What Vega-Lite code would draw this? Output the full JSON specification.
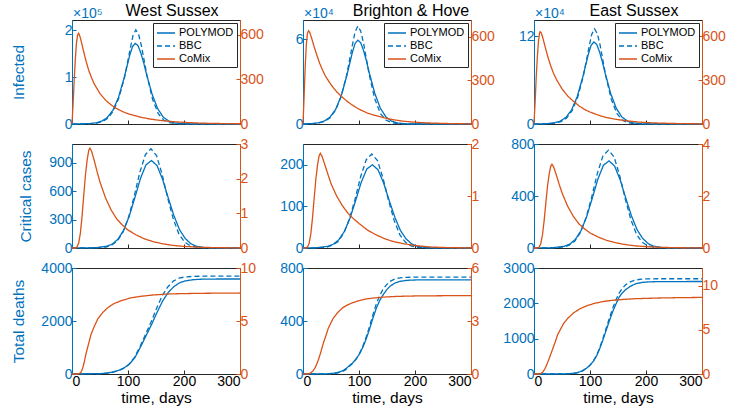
{
"$schema": "https://vega.github.io/schema/vega-lite/v6.json",
"background": "white",
"padding": {"left": 10, "top": 2, "right": 2, "bottom": 2},
"config": {
 "font": "Liberation Sans",
 "view": {"stroke": "#262626", "strokeWidth": 1},
 "axis": {"grid": false, "labelFont": "Liberation Sans", "titleFont": "Liberation Sans", "labelFontSize": 14, "titleFontSize": 15.5, "titleFontWeight": "normal", "tickSize": -4, "labelPadding": 4, "domainWidth": 1, "tickWidth": 1, "format": "d"},
 "legend": {"orient": "top-right", "title": null, "offset": 3, "padding": 3, "strokeColor": "#262626", "fillColor": "white", "labelFontSize": 11, "labelColor": "black", "labelFont": "Liberation Sans", "symbolType": "M-1.5,0H1.5", "symbolSize": 144, "symbolOffset": 3, "symbolStrokeWidth": 1.3, "rowPadding": 1, "labelOffset": 6, "cornerRadius": 0},
 "line": {"strokeWidth": 1.3}
},
"datasets": {
 "wsInf": [
  {"s":"POLYMOD","t":0,"v":30},{"s":"POLYMOD","t":13,"v":138},{"s":"POLYMOD","t":33,"v":1032},{"s":"POLYMOD","t":43,"v":2580},{"s":"POLYMOD","t":53,"v":6020},{"s":"POLYMOD","t":63,"v":13760},{"s":"POLYMOD","t":73,"v":29240},{"s":"POLYMOD","t":83,"v":56760},{"s":"POLYMOD","t":93,"v":98040},{"s":"POLYMOD","t":103,"v":146200},{"s":"POLYMOD","t":108,"v":165120},{"s":"POLYMOD","t":113,"v":172000},{"s":"POLYMOD","t":118,"v":166840},{"s":"POLYMOD","t":123,"v":151360},{"s":"POLYMOD","t":128,"v":130720},{"s":"POLYMOD","t":133,"v":106640},{"s":"POLYMOD","t":143,"v":63640},{"s":"POLYMOD","t":153,"v":32680},{"s":"POLYMOD","t":163,"v":14620},{"s":"POLYMOD","t":173,"v":6020},{"s":"POLYMOD","t":183,"v":2236},{"s":"POLYMOD","t":198,"v":516},{"s":"POLYMOD","t":213,"v":86},{"s":"POLYMOD","t":300,"v":0},
  {"s":"BBC","t":0,"v":0},{"s":"BBC","t":14,"v":60},{"s":"BBC","t":34,"v":603},{"s":"BBC","t":44,"v":2010},{"s":"BBC","t":54,"v":5025},{"s":"BBC","t":64,"v":12060},{"s":"BBC","t":74,"v":28140},{"s":"BBC","t":84,"v":56280},{"s":"BBC","t":94,"v":100500},{"s":"BBC","t":104,"v":160800},{"s":"BBC","t":109,"v":188940},{"s":"BBC","t":114,"v":201000},{"s":"BBC","t":119,"v":190950},{"s":"BBC","t":124,"v":166830},{"s":"BBC","t":129,"v":134670},{"s":"BBC","t":134,"v":102510},{"s":"BBC","t":144,"v":52260},{"s":"BBC","t":154,"v":22110},{"s":"BBC","t":164,"v":8040},{"s":"BBC","t":174,"v":2814},{"s":"BBC","t":184,"v":1005},{"s":"BBC","t":199,"v":201},{"s":"BBC","t":214,"v":40},{"s":"BBC","t":300,"v":0},
  {"s":"CoMix","t":0,"v":0},{"s":"CoMix","t":2,"v":140},{"s":"CoMix","t":4,"v":300},{"s":"CoMix","t":6,"v":440},{"s":"CoMix","t":8,"v":545},{"s":"CoMix","t":10,"v":600},{"s":"CoMix","t":12,"v":611},{"s":"CoMix","t":15,"v":580},{"s":"CoMix","t":20,"v":500},{"s":"CoMix","t":25,"v":425},{"s":"CoMix","t":30,"v":360},{"s":"CoMix","t":35,"v":310},{"s":"CoMix","t":40,"v":268},{"s":"CoMix","t":50,"v":205},{"s":"CoMix","t":60,"v":160},{"s":"CoMix","t":70,"v":128},{"s":"CoMix","t":80,"v":103},{"s":"CoMix","t":90,"v":84},{"s":"CoMix","t":100,"v":69},{"s":"CoMix","t":120,"v":48},{"s":"CoMix","t":140,"v":33},{"s":"CoMix","t":160,"v":23},{"s":"CoMix","t":180,"v":16},{"s":"CoMix","t":200,"v":11},{"s":"CoMix","t":225,"v":6.5},{"s":"CoMix","t":250,"v":4},{"s":"CoMix","t":275,"v":2.5},{"s":"CoMix","t":300,"v":1.5}
 ],
 "bhInf": [
  {"s":"POLYMOD","t":0,"v":60},{"s":"POLYMOD","t":18,"v":357},{"s":"POLYMOD","t":28,"v":893},{"s":"POLYMOD","t":38,"v":2083},{"s":"POLYMOD","t":48,"v":4760},{"s":"POLYMOD","t":58,"v":10115},{"s":"POLYMOD","t":68,"v":19635},{"s":"POLYMOD","t":78,"v":33915},{"s":"POLYMOD","t":88,"v":50575},{"s":"POLYMOD","t":93,"v":57120},{"s":"POLYMOD","t":98,"v":59500},{"s":"POLYMOD","t":103,"v":57715},{"s":"POLYMOD","t":108,"v":52360},{"s":"POLYMOD","t":113,"v":45220},{"s":"POLYMOD","t":118,"v":36890},{"s":"POLYMOD","t":128,"v":22015},{"s":"POLYMOD","t":138,"v":11305},{"s":"POLYMOD","t":148,"v":5058},{"s":"POLYMOD","t":158,"v":2083},{"s":"POLYMOD","t":168,"v":774},{"s":"POLYMOD","t":183,"v":179},{"s":"POLYMOD","t":198,"v":30},{"s":"POLYMOD","t":300,"v":0},
  {"s":"BBC","t":0,"v":21},{"s":"BBC","t":18,"v":209},{"s":"BBC","t":28,"v":695},{"s":"BBC","t":38,"v":1738},{"s":"BBC","t":48,"v":4170},{"s":"BBC","t":58,"v":9730},{"s":"BBC","t":68,"v":19460},{"s":"BBC","t":78,"v":34750},{"s":"BBC","t":88,"v":55600},{"s":"BBC","t":93,"v":65330},{"s":"BBC","t":98,"v":69500},{"s":"BBC","t":103,"v":66025},{"s":"BBC","t":108,"v":57685},{"s":"BBC","t":113,"v":46565},{"s":"BBC","t":118,"v":35445},{"s":"BBC","t":128,"v":18070},{"s":"BBC","t":138,"v":7645},{"s":"BBC","t":148,"v":2780},{"s":"BBC","t":158,"v":973},{"s":"BBC","t":168,"v":348},{"s":"BBC","t":183,"v":70},{"s":"BBC","t":198,"v":14},{"s":"BBC","t":300,"v":0},
  {"s":"CoMix","t":0,"v":0},{"s":"CoMix","t":2,"v":190},{"s":"CoMix","t":4,"v":400},{"s":"CoMix","t":6,"v":550},{"s":"CoMix","t":8,"v":625},{"s":"CoMix","t":10,"v":641},{"s":"CoMix","t":12,"v":630},{"s":"CoMix","t":15,"v":595},{"s":"CoMix","t":20,"v":530},{"s":"CoMix","t":25,"v":470},{"s":"CoMix","t":30,"v":415},{"s":"CoMix","t":35,"v":370},{"s":"CoMix","t":40,"v":330},{"s":"CoMix","t":50,"v":270},{"s":"CoMix","t":60,"v":222},{"s":"CoMix","t":70,"v":185},{"s":"CoMix","t":80,"v":152},{"s":"CoMix","t":90,"v":125},{"s":"CoMix","t":100,"v":102},{"s":"CoMix","t":115,"v":75},{"s":"CoMix","t":130,"v":57},{"s":"CoMix","t":145,"v":42},{"s":"CoMix","t":160,"v":30},{"s":"CoMix","t":180,"v":19},{"s":"CoMix","t":200,"v":12},{"s":"CoMix","t":225,"v":7},{"s":"CoMix","t":250,"v":4},{"s":"CoMix","t":275,"v":2},{"s":"CoMix","t":300,"v":1}
 ],
 "esInf": [
  {"s":"POLYMOD","t":0,"v":40},{"s":"POLYMOD","t":7,"v":90},{"s":"POLYMOD","t":27,"v":672},{"s":"POLYMOD","t":37,"v":1680},{"s":"POLYMOD","t":47,"v":3920},{"s":"POLYMOD","t":57,"v":8960},{"s":"POLYMOD","t":67,"v":19040},{"s":"POLYMOD","t":77,"v":36960},{"s":"POLYMOD","t":87,"v":63840},{"s":"POLYMOD","t":97,"v":95200},{"s":"POLYMOD","t":102,"v":107520},{"s":"POLYMOD","t":107,"v":112000},{"s":"POLYMOD","t":112,"v":108640},{"s":"POLYMOD","t":117,"v":98560},{"s":"POLYMOD","t":122,"v":85120},{"s":"POLYMOD","t":127,"v":69440},{"s":"POLYMOD","t":137,"v":41440},{"s":"POLYMOD","t":147,"v":21280},{"s":"POLYMOD","t":157,"v":9520},{"s":"POLYMOD","t":167,"v":3920},{"s":"POLYMOD","t":177,"v":1456},{"s":"POLYMOD","t":192,"v":336},{"s":"POLYMOD","t":207,"v":56},{"s":"POLYMOD","t":300,"v":0},
  {"s":"BBC","t":0,"v":0},{"s":"BBC","t":8,"v":39},{"s":"BBC","t":28,"v":390},{"s":"BBC","t":38,"v":1300},{"s":"BBC","t":48,"v":3250},{"s":"BBC","t":58,"v":7800},{"s":"BBC","t":68,"v":18200},{"s":"BBC","t":78,"v":36400},{"s":"BBC","t":88,"v":65000},{"s":"BBC","t":98,"v":104000},{"s":"BBC","t":103,"v":122200},{"s":"BBC","t":108,"v":130000},{"s":"BBC","t":113,"v":123500},{"s":"BBC","t":118,"v":107900},{"s":"BBC","t":123,"v":87100},{"s":"BBC","t":128,"v":66300},{"s":"BBC","t":138,"v":33800},{"s":"BBC","t":148,"v":14300},{"s":"BBC","t":158,"v":5200},{"s":"BBC","t":168,"v":1820},{"s":"BBC","t":178,"v":650},{"s":"BBC","t":193,"v":130},{"s":"BBC","t":208,"v":26},{"s":"BBC","t":300,"v":0},
  {"s":"CoMix","t":0,"v":0},{"s":"CoMix","t":2,"v":150},{"s":"CoMix","t":4,"v":320},{"s":"CoMix","t":6,"v":460},{"s":"CoMix","t":8,"v":565},{"s":"CoMix","t":10,"v":622},{"s":"CoMix","t":11,"v":630},{"s":"CoMix","t":13,"v":622},{"s":"CoMix","t":16,"v":585},{"s":"CoMix","t":20,"v":525},{"s":"CoMix","t":25,"v":455},{"s":"CoMix","t":30,"v":395},{"s":"CoMix","t":35,"v":345},{"s":"CoMix","t":40,"v":305},{"s":"CoMix","t":50,"v":240},{"s":"CoMix","t":60,"v":192},{"s":"CoMix","t":70,"v":156},{"s":"CoMix","t":80,"v":125},{"s":"CoMix","t":90,"v":100},{"s":"CoMix","t":100,"v":82},{"s":"CoMix","t":115,"v":60},{"s":"CoMix","t":128,"v":46},{"s":"CoMix","t":140,"v":36},{"s":"CoMix","t":160,"v":24},{"s":"CoMix","t":185,"v":14},{"s":"CoMix","t":200,"v":10},{"s":"CoMix","t":225,"v":6},{"s":"CoMix","t":250,"v":3.5},{"s":"CoMix","t":275,"v":2},{"s":"CoMix","t":300,"v":1}
 ],
 "wsCrit": [
  {"s":"POLYMOD","t":0,"v":0},{"s":"POLYMOD","t":42,"v":2.8},{"s":"POLYMOD","t":62,"v":18.5},{"s":"POLYMOD","t":72,"v":41.6},{"s":"POLYMOD","t":82,"v":92.5},{"s":"POLYMOD","t":92,"v":185},{"s":"POLYMOD","t":102,"v":333},{"s":"POLYMOD","t":112,"v":527},{"s":"POLYMOD","t":122,"v":731},{"s":"POLYMOD","t":132,"v":879},{"s":"POLYMOD","t":142,"v":925},{"s":"POLYMOD","t":152,"v":870},{"s":"POLYMOD","t":162,"v":722},{"s":"POLYMOD","t":172,"v":527},{"s":"POLYMOD","t":182,"v":342},{"s":"POLYMOD","t":192,"v":194},{"s":"POLYMOD","t":202,"v":102},{"s":"POLYMOD","t":212,"v":46},{"s":"POLYMOD","t":222,"v":18.5},{"s":"POLYMOD","t":237,"v":4.6},{"s":"POLYMOD","t":252,"v":0.9},{"s":"POLYMOD","t":300,"v":0},
  {"s":"BBC","t":0,"v":0},{"s":"BBC","t":41,"v":1},{"s":"BBC","t":61,"v":10.5},{"s":"BBC","t":71,"v":31.5},{"s":"BBC","t":81,"v":73.5},{"s":"BBC","t":91,"v":168},{"s":"BBC","t":101,"v":325.5},{"s":"BBC","t":111,"v":546},{"s":"BBC","t":121,"v":798},{"s":"BBC","t":131,"v":987},{"s":"BBC","t":141,"v":1050},{"s":"BBC","t":151,"v":976.5},{"s":"BBC","t":161,"v":777},{"s":"BBC","t":171,"v":525},{"s":"BBC","t":181,"v":304.5},{"s":"BBC","t":191,"v":147},{"s":"BBC","t":201,"v":63},{"s":"BBC","t":211,"v":24},{"s":"BBC","t":221,"v":8.4},{"s":"BBC","t":236,"v":2.1},{"s":"BBC","t":251,"v":0.3},{"s":"BBC","t":300,"v":0},
  {"s":"CoMix","t":0,"v":0},{"s":"CoMix","t":6,"v":0},{"s":"CoMix","t":9,"v":0.029},{"s":"CoMix","t":12,"v":0.144},{"s":"CoMix","t":15,"v":0.432},{"s":"CoMix","t":18,"v":0.922},{"s":"CoMix","t":21,"v":1.526},{"s":"CoMix","t":24,"v":2.102},{"s":"CoMix","t":27,"v":2.534},{"s":"CoMix","t":30,"v":2.822},{"s":"CoMix","t":32,"v":2.88},{"s":"CoMix","t":35,"v":2.794},{"s":"CoMix","t":40,"v":2.506},{"s":"CoMix","t":45,"v":2.189},{"s":"CoMix","t":50,"v":1.901},{"s":"CoMix","t":60,"v":1.44},{"s":"CoMix","t":70,"v":1.094},{"s":"CoMix","t":80,"v":0.835},{"s":"CoMix","t":90,"v":0.662},{"s":"CoMix","t":100,"v":0.518},{"s":"CoMix","t":115,"v":0.374},{"s":"CoMix","t":130,"v":0.259},{"s":"CoMix","t":145,"v":0.184},{"s":"CoMix","t":160,"v":0.127},{"s":"CoMix","t":180,"v":0.075},{"s":"CoMix","t":200,"v":0.046},{"s":"CoMix","t":230,"v":0.02},{"s":"CoMix","t":260,"v":0.009},{"s":"CoMix","t":300,"v":0.003}
 ],
 "bhCrit": [
  {"s":"POLYMOD","t":0,"v":0},{"s":"POLYMOD","t":24,"v":0.6},{"s":"POLYMOD","t":44,"v":4},{"s":"POLYMOD","t":54,"v":9},{"s":"POLYMOD","t":64,"v":20},{"s":"POLYMOD","t":74,"v":40},{"s":"POLYMOD","t":84,"v":72},{"s":"POLYMOD","t":94,"v":114},{"s":"POLYMOD","t":104,"v":158},{"s":"POLYMOD","t":114,"v":190},{"s":"POLYMOD","t":124,"v":200},{"s":"POLYMOD","t":134,"v":188},{"s":"POLYMOD","t":144,"v":156},{"s":"POLYMOD","t":154,"v":114},{"s":"POLYMOD","t":164,"v":74},{"s":"POLYMOD","t":174,"v":42},{"s":"POLYMOD","t":184,"v":22},{"s":"POLYMOD","t":194,"v":10},{"s":"POLYMOD","t":204,"v":4},{"s":"POLYMOD","t":219,"v":1},{"s":"POLYMOD","t":234,"v":0.2},{"s":"POLYMOD","t":300,"v":0},
  {"s":"BBC","t":0,"v":0},{"s":"BBC","t":23,"v":0.2},{"s":"BBC","t":43,"v":2.3},{"s":"BBC","t":53,"v":6.8},{"s":"BBC","t":63,"v":15.8},{"s":"BBC","t":73,"v":36.2},{"s":"BBC","t":83,"v":70},{"s":"BBC","t":93,"v":117.5},{"s":"BBC","t":103,"v":171.8},{"s":"BBC","t":113,"v":212.4},{"s":"BBC","t":123,"v":226},{"s":"BBC","t":133,"v":210.2},{"s":"BBC","t":143,"v":167.2},{"s":"BBC","t":153,"v":113},{"s":"BBC","t":163,"v":65.5},{"s":"BBC","t":173,"v":31.6},{"s":"BBC","t":183,"v":13.6},{"s":"BBC","t":193,"v":5.2},{"s":"BBC","t":203,"v":1.8},{"s":"BBC","t":218,"v":0.5},{"s":"BBC","t":233,"v":0.07},{"s":"BBC","t":300,"v":0},
  {"s":"CoMix","t":0,"v":0},{"s":"CoMix","t":5,"v":0},{"s":"CoMix","t":8,"v":0.018},{"s":"CoMix","t":11,"v":0.091},{"s":"CoMix","t":14,"v":0.273},{"s":"CoMix","t":17,"v":0.582},{"s":"CoMix","t":20,"v":0.965},{"s":"CoMix","t":23,"v":1.329},{"s":"CoMix","t":26,"v":1.602},{"s":"CoMix","t":29,"v":1.784},{"s":"CoMix","t":31,"v":1.82},{"s":"CoMix","t":34,"v":1.765},{"s":"CoMix","t":39,"v":1.602},{"s":"CoMix","t":45,"v":1.401},{"s":"CoMix","t":50,"v":1.238},{"s":"CoMix","t":60,"v":1.001},{"s":"CoMix","t":70,"v":0.819},{"s":"CoMix","t":80,"v":0.673},{"s":"CoMix","t":90,"v":0.564},{"s":"CoMix","t":100,"v":0.473},{"s":"CoMix","t":115,"v":0.346},{"s":"CoMix","t":130,"v":0.255},{"s":"CoMix","t":145,"v":0.182},{"s":"CoMix","t":160,"v":0.127},{"s":"CoMix","t":180,"v":0.082},{"s":"CoMix","t":200,"v":0.046},{"s":"CoMix","t":230,"v":0.018},{"s":"CoMix","t":260,"v":0.007},{"s":"CoMix","t":300,"v":0.002}
 ],
 "esCrit": [
  {"s":"POLYMOD","t":0,"v":0},{"s":"POLYMOD","t":34,"v":2},{"s":"POLYMOD","t":54,"v":13.4},{"s":"POLYMOD","t":64,"v":30.2},{"s":"POLYMOD","t":74,"v":67},{"s":"POLYMOD","t":84,"v":134},{"s":"POLYMOD","t":94,"v":241},{"s":"POLYMOD","t":104,"v":382},{"s":"POLYMOD","t":114,"v":529},{"s":"POLYMOD","t":124,"v":637},{"s":"POLYMOD","t":134,"v":670},{"s":"POLYMOD","t":144,"v":630},{"s":"POLYMOD","t":154,"v":523},{"s":"POLYMOD","t":164,"v":382},{"s":"POLYMOD","t":174,"v":248},{"s":"POLYMOD","t":184,"v":141},{"s":"POLYMOD","t":194,"v":74},{"s":"POLYMOD","t":204,"v":33.5},{"s":"POLYMOD","t":214,"v":13.4},{"s":"POLYMOD","t":229,"v":3.4},{"s":"POLYMOD","t":244,"v":0.7},{"s":"POLYMOD","t":300,"v":0},
  {"s":"BBC","t":0,"v":0},{"s":"BBC","t":33,"v":0.75},{"s":"BBC","t":53,"v":7.5},{"s":"BBC","t":63,"v":22.6},{"s":"BBC","t":73,"v":52.7},{"s":"BBC","t":83,"v":120.5},{"s":"BBC","t":93,"v":233.4},{"s":"BBC","t":103,"v":391.6},{"s":"BBC","t":113,"v":572.3},{"s":"BBC","t":123,"v":707.8},{"s":"BBC","t":133,"v":753},{"s":"BBC","t":143,"v":700.3},{"s":"BBC","t":153,"v":557.2},{"s":"BBC","t":163,"v":376.5},{"s":"BBC","t":173,"v":218.4},{"s":"BBC","t":183,"v":105.4},{"s":"BBC","t":193,"v":45.2},{"s":"BBC","t":203,"v":17.3},{"s":"BBC","t":213,"v":6},{"s":"BBC","t":228,"v":1.5},{"s":"BBC","t":243,"v":0.2},{"s":"BBC","t":300,"v":0},
  {"s":"CoMix","t":0,"v":0},{"s":"CoMix","t":6,"v":0},{"s":"CoMix","t":9,"v":0.032},{"s":"CoMix","t":12,"v":0.161},{"s":"CoMix","t":15,"v":0.483},{"s":"CoMix","t":18,"v":1.03},{"s":"CoMix","t":21,"v":1.707},{"s":"CoMix","t":24,"v":2.351},{"s":"CoMix","t":27,"v":2.834},{"s":"CoMix","t":30,"v":3.156},{"s":"CoMix","t":32,"v":3.22},{"s":"CoMix","t":35,"v":3.123},{"s":"CoMix","t":40,"v":2.801},{"s":"CoMix","t":45,"v":2.447},{"s":"CoMix","t":50,"v":2.125},{"s":"CoMix","t":60,"v":1.61},{"s":"CoMix","t":70,"v":1.224},{"s":"CoMix","t":80,"v":0.934},{"s":"CoMix","t":90,"v":0.741},{"s":"CoMix","t":100,"v":0.58},{"s":"CoMix","t":115,"v":0.419},{"s":"CoMix","t":130,"v":0.29},{"s":"CoMix","t":145,"v":0.206},{"s":"CoMix","t":160,"v":0.142},{"s":"CoMix","t":180,"v":0.084},{"s":"CoMix","t":200,"v":0.052},{"s":"CoMix","t":230,"v":0.023},{"s":"CoMix","t":260,"v":0.01},{"s":"CoMix","t":300,"v":0.003}
 ],
 "wsDeath": [
  {"s":"POLYMOD","t":0,"v":0},{"s":"POLYMOD","t":52,"v":18},{"s":"POLYMOD","t":62,"v":36},{"s":"POLYMOD","t":72,"v":72},{"s":"POLYMOD","t":82,"v":125},{"s":"POLYMOD","t":92,"v":215},{"s":"POLYMOD","t":102,"v":359},{"s":"POLYMOD","t":112,"v":609},{"s":"POLYMOD","t":122,"v":1004},{"s":"POLYMOD","t":132,"v":1434},{"s":"POLYMOD","t":142,"v":1864},{"s":"POLYMOD","t":152,"v":2330},{"s":"POLYMOD","t":162,"v":2760},{"s":"POLYMOD","t":172,"v":3083},{"s":"POLYMOD","t":182,"v":3298},{"s":"POLYMOD","t":192,"v":3442},{"s":"POLYMOD","t":202,"v":3513},{"s":"POLYMOD","t":217,"v":3560},{"s":"POLYMOD","t":232,"v":3578},{"s":"POLYMOD","t":262,"v":3585},{"s":"POLYMOD","t":300,"v":3585},
  {"s":"BBC","t":0,"v":0},{"s":"BBC","t":51,"v":11},{"s":"BBC","t":61,"v":26},{"s":"BBC","t":71,"v":55},{"s":"BBC","t":81,"v":111},{"s":"BBC","t":91,"v":203},{"s":"BBC","t":101,"v":351},{"s":"BBC","t":111,"v":609},{"s":"BBC","t":121,"v":1015},{"s":"BBC","t":131,"v":1476},{"s":"BBC","t":141,"v":1956},{"s":"BBC","t":151,"v":2472},{"s":"BBC","t":161,"v":2952},{"s":"BBC","t":171,"v":3284},{"s":"BBC","t":181,"v":3506},{"s":"BBC","t":191,"v":3616},{"s":"BBC","t":201,"v":3660},{"s":"BBC","t":216,"v":3683},{"s":"BBC","t":231,"v":3690},{"s":"BBC","t":300,"v":3690},
  {"s":"CoMix","t":0,"v":0},{"s":"CoMix","t":10,"v":0},{"s":"CoMix","t":13,"v":0.038},{"s":"CoMix","t":16,"v":0.153},{"s":"CoMix","t":19,"v":0.535},{"s":"CoMix","t":22,"v":1.146},{"s":"CoMix","t":25,"v":1.91},{"s":"CoMix","t":28,"v":2.521},{"s":"CoMix","t":31,"v":3.132},{"s":"CoMix","t":34,"v":3.744},{"s":"CoMix","t":40,"v":4.508},{"s":"CoMix","t":46,"v":5.195},{"s":"CoMix","t":55,"v":5.806},{"s":"CoMix","t":64,"v":6.265},{"s":"CoMix","t":75,"v":6.647},{"s":"CoMix","t":88,"v":6.914},{"s":"CoMix","t":105,"v":7.182},{"s":"CoMix","t":124,"v":7.334},{"s":"CoMix","t":145,"v":7.457},{"s":"CoMix","t":172,"v":7.548},{"s":"CoMix","t":200,"v":7.587},{"s":"CoMix","t":240,"v":7.617},{"s":"CoMix","t":300,"v":7.64}
 ],
 "bhDeath": [
  {"s":"POLYMOD","t":0,"v":0},{"s":"POLYMOD","t":40,"v":0.7},{"s":"POLYMOD","t":54,"v":5},{"s":"POLYMOD","t":63,"v":12.8},{"s":"POLYMOD","t":71,"v":24.9},{"s":"POLYMOD","t":77,"v":41.2},{"s":"POLYMOD","t":83,"v":64},{"s":"POLYMOD","t":89,"v":85.3},{"s":"POLYMOD","t":95,"v":113.8},{"s":"POLYMOD","t":101,"v":152.9},{"s":"POLYMOD","t":107,"v":202.6},{"s":"POLYMOD","t":113,"v":266.6},{"s":"POLYMOD","t":119,"v":341.3},{"s":"POLYMOD","t":125,"v":423},{"s":"POLYMOD","t":131,"v":497.7},{"s":"POLYMOD","t":137,"v":554.6},{"s":"POLYMOD","t":143,"v":597.2},{"s":"POLYMOD","t":149,"v":632.8},{"s":"POLYMOD","t":155,"v":661.2},{"s":"POLYMOD","t":164,"v":686.1},{"s":"POLYMOD","t":173,"v":698.9},{"s":"POLYMOD","t":185,"v":706.7},{"s":"POLYMOD","t":200,"v":709.6},{"s":"POLYMOD","t":230,"v":711},{"s":"POLYMOD","t":300,"v":711},
  {"s":"BBC","t":0,"v":0},{"s":"BBC","t":40,"v":0.4},{"s":"BBC","t":54,"v":3.7},{"s":"BBC","t":63,"v":9.5},{"s":"BBC","t":71,"v":20.5},{"s":"BBC","t":77,"v":35.1},{"s":"BBC","t":83,"v":58.5},{"s":"BBC","t":89,"v":82.6},{"s":"BBC","t":95,"v":113.3},{"s":"BBC","t":101,"v":155.7},{"s":"BBC","t":107,"v":212},{"s":"BBC","t":113,"v":281.4},{"s":"BBC","t":119,"v":361.8},{"s":"BBC","t":125,"v":449.6},{"s":"BBC","t":131,"v":530},{"s":"BBC","t":137,"v":592.1},{"s":"BBC","t":143,"v":639.6},{"s":"BBC","t":149,"v":672.5},{"s":"BBC","t":155,"v":698.1},{"s":"BBC","t":164,"v":716.4},{"s":"BBC","t":173,"v":725.2},{"s":"BBC","t":185,"v":729.5},{"s":"BBC","t":200,"v":731},{"s":"BBC","t":300,"v":731},
  {"s":"CoMix","t":0,"v":0},{"s":"CoMix","t":9,"v":0},{"s":"CoMix","t":13,"v":0.044},{"s":"CoMix","t":18,"v":0.178},{"s":"CoMix","t":22,"v":0.377},{"s":"CoMix","t":27,"v":0.755},{"s":"CoMix","t":31,"v":1.154},{"s":"CoMix","t":36,"v":1.709},{"s":"CoMix","t":40,"v":2.087},{"s":"CoMix","t":45,"v":2.575},{"s":"CoMix","t":50,"v":2.908},{"s":"CoMix","t":54,"v":3.152},{"s":"CoMix","t":62,"v":3.485},{"s":"CoMix","t":71,"v":3.752},{"s":"CoMix","t":80,"v":3.916},{"s":"CoMix","t":89,"v":4.04},{"s":"CoMix","t":100,"v":4.151},{"s":"CoMix","t":113,"v":4.249},{"s":"CoMix","t":128,"v":4.307},{"s":"CoMix","t":143,"v":4.351},{"s":"CoMix","t":170,"v":4.396},{"s":"CoMix","t":202,"v":4.418},{"s":"CoMix","t":250,"v":4.431},{"s":"CoMix","t":300,"v":4.44}
 ],
 "esDeath": [
  {"s":"POLYMOD","t":0,"v":0},{"s":"POLYMOD","t":40,"v":0.6},{"s":"POLYMOD","t":50,"v":3},{"s":"POLYMOD","t":60,"v":8},{"s":"POLYMOD","t":70,"v":20},{"s":"POLYMOD","t":77,"v":40},{"s":"POLYMOD","t":85,"v":80},{"s":"POLYMOD","t":94,"v":167},{"s":"POLYMOD","t":100,"v":250},{"s":"POLYMOD","t":106,"v":363},{"s":"POLYMOD","t":112,"v":520},{"s":"POLYMOD","t":117,"v":706},{"s":"POLYMOD","t":123,"v":960},{"s":"POLYMOD","t":129,"v":1245},{"s":"POLYMOD","t":135,"v":1520},{"s":"POLYMOD","t":141,"v":1784},{"s":"POLYMOD","t":147,"v":2000},{"s":"POLYMOD","t":152,"v":2176},{"s":"POLYMOD","t":158,"v":2300},{"s":"POLYMOD","t":164,"v":2392},{"s":"POLYMOD","t":172,"v":2480},{"s":"POLYMOD","t":181,"v":2549},{"s":"POLYMOD","t":192,"v":2590},{"s":"POLYMOD","t":205,"v":2608},{"s":"POLYMOD","t":230,"v":2616},{"s":"POLYMOD","t":300,"v":2618},
  {"s":"BBC","t":0,"v":0},{"s":"BBC","t":50,"v":2},{"s":"BBC","t":60,"v":6},{"s":"BBC","t":70,"v":16},{"s":"BBC","t":77,"v":34},{"s":"BBC","t":85,"v":72},{"s":"BBC","t":94,"v":160},{"s":"BBC","t":100,"v":245},{"s":"BBC","t":106,"v":365},{"s":"BBC","t":112,"v":535},{"s":"BBC","t":117,"v":730},{"s":"BBC","t":123,"v":1000},{"s":"BBC","t":129,"v":1300},{"s":"BBC","t":135,"v":1600},{"s":"BBC","t":141,"v":1880},{"s":"BBC","t":147,"v":2120},{"s":"BBC","t":152,"v":2290},{"s":"BBC","t":158,"v":2430},{"s":"BBC","t":164,"v":2530},{"s":"BBC","t":172,"v":2610},{"s":"BBC","t":181,"v":2660},{"s":"BBC","t":192,"v":2685},{"s":"BBC","t":205,"v":2694},{"s":"BBC","t":230,"v":2696},{"s":"BBC","t":300,"v":2696},
  {"s":"CoMix","t":0,"v":0},{"s":"CoMix","t":8,"v":0},{"s":"CoMix","t":12,"v":0.043},{"s":"CoMix","t":16,"v":0.26},{"s":"CoMix","t":20,"v":0.65},{"s":"CoMix","t":24,"v":1.248},{"s":"CoMix","t":28,"v":1.907},{"s":"CoMix","t":33,"v":2.774},{"s":"CoMix","t":38,"v":3.641},{"s":"CoMix","t":42,"v":4.422},{"s":"CoMix","t":47,"v":5.029},{"s":"CoMix","t":53,"v":5.722},{"s":"CoMix","t":60,"v":6.286},{"s":"CoMix","t":71,"v":6.936},{"s":"CoMix","t":82,"v":7.387},{"s":"CoMix","t":94,"v":7.716},{"s":"CoMix","t":108,"v":7.994},{"s":"CoMix","t":123,"v":8.202},{"s":"CoMix","t":140,"v":8.341},{"s":"CoMix","t":158,"v":8.436},{"s":"CoMix","t":180,"v":8.523},{"s":"CoMix","t":222,"v":8.601},{"s":"CoMix","t":260,"v":8.644},{"s":"CoMix","t":300,"v":8.67}
 ]
},
"columns": 3,
"spacing": {"row": 20, "column": 63},
"bounds": "flush",
"resolve": {"scale": {"color": "independent", "strokeDash": "independent"}},
"concat": [
 {"width": 168, "height": 104,
  "layer": [
   {"layer": [
     {"data": {"name": "wsInf"}, "transform": [{"filter": "datum.s !== 'CoMix'"}], "mark": "line",
      "encoding": {
       "x": {"field": "t", "type": "quantitative", "scale": {"domain": [0, 300], "nice": false}, "axis": {"values": [0, 100, 200, 300], "labels": false, "title": null, "domainColor": "#262626", "tickColor": "#262626"}},
       "y": {"field": "v", "type": "quantitative", "scale": {"domain": [0, 222000], "nice": false}, "axis": {"orient": "left", "values": [0, 100000, 200000], "labelExpr": "datum.value / 100000", "title": "Infected", "titleX": -46, "domainColor": "#0072BD", "tickColor": "#0072BD", "labelColor": "#0072BD", "titleColor": "#0072BD"}},
       "color": {"field": "s", "type": "nominal", "scale": {"domain": ["POLYMOD", "BBC", "CoMix"], "range": ["#0072BD", "#0072BD", "#D95319"]}},
       "strokeDash": {"field": "s", "type": "nominal", "scale": {"domain": ["POLYMOD", "BBC", "CoMix"], "range": [[1, 0], [5, 3], [1, 0]]}}
      }},
     {"data": {"values": [{"lab": "×10⁵"}]}, "mark": {"type": "text", "align": "left", "baseline": "alphabetic", "dx": 1, "dy": -2, "color": "#0072BD", "fontSize": 14},
      "encoding": {"x": {"datum": 0, "type": "quantitative"}, "y": {"datum": 222000, "type": "quantitative"}, "text": {"field": "lab"}}},
     {"data": {"values": [{"lab": "West Sussex"}]}, "mark": {"type": "text", "align": "center", "baseline": "alphabetic", "dx": 16, "dy": -4, "color": "black", "fontSize": 16},
      "encoding": {"x": {"datum": 150, "type": "quantitative"}, "y": {"datum": 222000, "type": "quantitative"}, "text": {"field": "lab"}}}
   ]},
   {"data": {"name": "wsInf"}, "transform": [{"filter": "datum.s === 'CoMix'"}], "mark": "line",
    "encoding": {
     "x": {"field": "t", "type": "quantitative"},
     "y": {"field": "v", "type": "quantitative", "scale": {"domain": [0, 700], "nice": false}, "axis": {"orient": "right", "values": [0, 300, 600], "title": null, "domainColor": "#D95319", "tickColor": "#D95319", "labelColor": "#D95319"}},
     "color": {"field": "s", "type": "nominal", "scale": {"domain": ["POLYMOD", "BBC", "CoMix"], "range": ["#0072BD", "#0072BD", "#D95319"]}},
     "strokeDash": {"field": "s", "type": "nominal", "scale": {"domain": ["POLYMOD", "BBC", "CoMix"], "range": [[1, 0], [5, 3], [1, 0]]}}
    }}
  ],
  "resolve": {"scale": {"y": "independent"}}},
 {"width": 168, "height": 104,
  "layer": [
   {"layer": [
     {"data": {"name": "bhInf"}, "transform": [{"filter": "datum.s !== 'CoMix'"}], "mark": "line",
      "encoding": {
       "x": {"field": "t", "type": "quantitative", "scale": {"domain": [0, 300], "nice": false}, "axis": {"values": [0, 100, 200, 300], "labels": false, "title": null, "domainColor": "#262626", "tickColor": "#262626"}},
       "y": {"field": "v", "type": "quantitative", "scale": {"domain": [0, 73800], "nice": false}, "axis": {"orient": "left", "values": [0, 20000, 40000, 60000], "labelExpr": "datum.value / 10000", "title": null, "domainColor": "#0072BD", "tickColor": "#0072BD", "labelColor": "#0072BD"}},
       "color": {"field": "s", "type": "nominal", "scale": {"domain": ["POLYMOD", "BBC", "CoMix"], "range": ["#0072BD", "#0072BD", "#D95319"]}},
       "strokeDash": {"field": "s", "type": "nominal", "scale": {"domain": ["POLYMOD", "BBC", "CoMix"], "range": [[1, 0], [5, 3], [1, 0]]}}
      }},
     {"data": {"values": [{"lab": "×10⁴"}]}, "mark": {"type": "text", "align": "left", "baseline": "alphabetic", "dx": 1, "dy": -2, "color": "#0072BD", "fontSize": 14},
      "encoding": {"x": {"datum": 0, "type": "quantitative"}, "y": {"datum": 73800, "type": "quantitative"}, "text": {"field": "lab"}}},
     {"data": {"values": [{"lab": "Brighton & Hove"}]}, "mark": {"type": "text", "align": "center", "baseline": "alphabetic", "dx": 24, "dy": -4, "color": "black", "fontSize": 16},
      "encoding": {"x": {"datum": 150, "type": "quantitative"}, "y": {"datum": 73800, "type": "quantitative"}, "text": {"field": "lab"}}}
   ]},
   {"data": {"name": "bhInf"}, "transform": [{"filter": "datum.s === 'CoMix'"}], "mark": "line",
    "encoding": {
     "x": {"field": "t", "type": "quantitative"},
     "y": {"field": "v", "type": "quantitative", "scale": {"domain": [0, 715], "nice": false}, "axis": {"orient": "right", "values": [0, 300, 600], "title": null, "domainColor": "#D95319", "tickColor": "#D95319", "labelColor": "#D95319"}},
     "color": {"field": "s", "type": "nominal", "scale": {"domain": ["POLYMOD", "BBC", "CoMix"], "range": ["#0072BD", "#0072BD", "#D95319"]}},
     "strokeDash": {"field": "s", "type": "nominal", "scale": {"domain": ["POLYMOD", "BBC", "CoMix"], "range": [[1, 0], [5, 3], [1, 0]]}}
    }}
  ],
  "resolve": {"scale": {"y": "independent"}}},
 {"width": 168, "height": 104,
  "layer": [
   {"layer": [
     {"data": {"name": "esInf"}, "transform": [{"filter": "datum.s !== 'CoMix'"}], "mark": "line",
      "encoding": {
       "x": {"field": "t", "type": "quantitative", "scale": {"domain": [0, 300], "nice": false}, "axis": {"values": [0, 100, 200, 300], "labels": false, "title": null, "domainColor": "#262626", "tickColor": "#262626"}},
       "y": {"field": "v", "type": "quantitative", "scale": {"domain": [0, 142000], "nice": false}, "axis": {"orient": "left", "values": [0, 40000, 80000, 120000], "labelExpr": "datum.value / 10000", "title": null, "domainColor": "#0072BD", "tickColor": "#0072BD", "labelColor": "#0072BD"}},
       "color": {"field": "s", "type": "nominal", "scale": {"domain": ["POLYMOD", "BBC", "CoMix"], "range": ["#0072BD", "#0072BD", "#D95319"]}},
       "strokeDash": {"field": "s", "type": "nominal", "scale": {"domain": ["POLYMOD", "BBC", "CoMix"], "range": [[1, 0], [5, 3], [1, 0]]}}
      }},
     {"data": {"values": [{"lab": "×10⁴"}]}, "mark": {"type": "text", "align": "left", "baseline": "alphabetic", "dx": 1, "dy": -2, "color": "#0072BD", "fontSize": 14},
      "encoding": {"x": {"datum": 0, "type": "quantitative"}, "y": {"datum": 142000, "type": "quantitative"}, "text": {"field": "lab"}}},
     {"data": {"values": [{"lab": "East Sussex"}]}, "mark": {"type": "text", "align": "center", "baseline": "alphabetic", "dx": 16, "dy": -4, "color": "black", "fontSize": 16},
      "encoding": {"x": {"datum": 150, "type": "quantitative"}, "y": {"datum": 142000, "type": "quantitative"}, "text": {"field": "lab"}}}
   ]},
   {"data": {"name": "esInf"}, "transform": [{"filter": "datum.s === 'CoMix'"}], "mark": "line",
    "encoding": {
     "x": {"field": "t", "type": "quantitative"},
     "y": {"field": "v", "type": "quantitative", "scale": {"domain": [0, 710], "nice": false}, "axis": {"orient": "right", "values": [0, 300, 600], "title": null, "domainColor": "#D95319", "tickColor": "#D95319", "labelColor": "#D95319"}},
     "color": {"field": "s", "type": "nominal", "scale": {"domain": ["POLYMOD", "BBC", "CoMix"], "range": ["#0072BD", "#0072BD", "#D95319"]}},
     "strokeDash": {"field": "s", "type": "nominal", "scale": {"domain": ["POLYMOD", "BBC", "CoMix"], "range": [[1, 0], [5, 3], [1, 0]]}}
    }}
  ],
  "resolve": {"scale": {"y": "independent"}}},
 {"width": 168, "height": 104,
  "layer": [
   {"data": {"name": "wsCrit"}, "transform": [{"filter": "datum.s !== 'CoMix'"}], "mark": "line",
    "encoding": {
     "x": {"field": "t", "type": "quantitative", "scale": {"domain": [0, 300], "nice": false}, "axis": {"values": [0, 100, 200, 300], "labels": false, "title": null, "domainColor": "#262626", "tickColor": "#262626"}},
     "y": {"field": "v", "type": "quantitative", "scale": {"domain": [0, 1100], "nice": false}, "axis": {"orient": "left", "values": [0, 300, 600, 900], "title": "Critical cases", "titleX": -39, "domainColor": "#0072BD", "tickColor": "#0072BD", "labelColor": "#0072BD", "titleColor": "#0072BD"}},
     "color": {"field": "s", "type": "nominal", "scale": {"domain": ["POLYMOD", "BBC", "CoMix"], "range": ["#0072BD", "#0072BD", "#D95319"]}, "legend": null},
     "strokeDash": {"field": "s", "type": "nominal", "scale": {"domain": ["POLYMOD", "BBC", "CoMix"], "range": [[1, 0], [5, 3], [1, 0]]}, "legend": null}
    }},
   {"data": {"name": "wsCrit"}, "transform": [{"filter": "datum.s === 'CoMix'"}], "mark": "line",
    "encoding": {
     "x": {"field": "t", "type": "quantitative"},
     "y": {"field": "v", "type": "quantitative", "scale": {"domain": [0, 3], "nice": false}, "axis": {"orient": "right", "values": [0, 1, 2, 3], "title": null, "domainColor": "#D95319", "tickColor": "#D95319", "labelColor": "#D95319"}},
     "color": {"field": "s", "type": "nominal", "scale": {"domain": ["POLYMOD", "BBC", "CoMix"], "range": ["#0072BD", "#0072BD", "#D95319"]}, "legend": null},
     "strokeDash": {"field": "s", "type": "nominal", "scale": {"domain": ["POLYMOD", "BBC", "CoMix"], "range": [[1, 0], [5, 3], [1, 0]]}, "legend": null}
    }}
  ],
  "resolve": {"scale": {"y": "independent"}}},
 {"width": 168, "height": 104,
  "layer": [
   {"data": {"name": "bhCrit"}, "transform": [{"filter": "datum.s !== 'CoMix'"}], "mark": "line",
    "encoding": {
     "x": {"field": "t", "type": "quantitative", "scale": {"domain": [0, 300], "nice": false}, "axis": {"values": [0, 100, 200, 300], "labels": false, "title": null, "domainColor": "#262626", "tickColor": "#262626"}},
     "y": {"field": "v", "type": "quantitative", "scale": {"domain": [0, 250], "nice": false}, "axis": {"orient": "left", "values": [0, 100, 200], "title": null, "domainColor": "#0072BD", "tickColor": "#0072BD", "labelColor": "#0072BD"}},
     "color": {"field": "s", "type": "nominal", "scale": {"domain": ["POLYMOD", "BBC", "CoMix"], "range": ["#0072BD", "#0072BD", "#D95319"]}, "legend": null},
     "strokeDash": {"field": "s", "type": "nominal", "scale": {"domain": ["POLYMOD", "BBC", "CoMix"], "range": [[1, 0], [5, 3], [1, 0]]}, "legend": null}
    }},
   {"data": {"name": "bhCrit"}, "transform": [{"filter": "datum.s === 'CoMix'"}], "mark": "line",
    "encoding": {
     "x": {"field": "t", "type": "quantitative"},
     "y": {"field": "v", "type": "quantitative", "scale": {"domain": [0, 2], "nice": false}, "axis": {"orient": "right", "values": [0, 1, 2], "title": null, "domainColor": "#D95319", "tickColor": "#D95319", "labelColor": "#D95319"}},
     "color": {"field": "s", "type": "nominal", "scale": {"domain": ["POLYMOD", "BBC", "CoMix"], "range": ["#0072BD", "#0072BD", "#D95319"]}, "legend": null},
     "strokeDash": {"field": "s", "type": "nominal", "scale": {"domain": ["POLYMOD", "BBC", "CoMix"], "range": [[1, 0], [5, 3], [1, 0]]}, "legend": null}
    }}
  ],
  "resolve": {"scale": {"y": "independent"}}},
 {"width": 168, "height": 104,
  "layer": [
   {"data": {"name": "esCrit"}, "transform": [{"filter": "datum.s !== 'CoMix'"}], "mark": "line",
    "encoding": {
     "x": {"field": "t", "type": "quantitative", "scale": {"domain": [0, 300], "nice": false}, "axis": {"values": [0, 100, 200, 300], "labels": false, "title": null, "domainColor": "#262626", "tickColor": "#262626"}},
     "y": {"field": "v", "type": "quantitative", "scale": {"domain": [0, 800], "nice": false}, "axis": {"orient": "left", "values": [0, 400, 800], "title": null, "domainColor": "#0072BD", "tickColor": "#0072BD", "labelColor": "#0072BD"}},
     "color": {"field": "s", "type": "nominal", "scale": {"domain": ["POLYMOD", "BBC", "CoMix"], "range": ["#0072BD", "#0072BD", "#D95319"]}, "legend": null},
     "strokeDash": {"field": "s", "type": "nominal", "scale": {"domain": ["POLYMOD", "BBC", "CoMix"], "range": [[1, 0], [5, 3], [1, 0]]}, "legend": null}
    }},
   {"data": {"name": "esCrit"}, "transform": [{"filter": "datum.s === 'CoMix'"}], "mark": "line",
    "encoding": {
     "x": {"field": "t", "type": "quantitative"},
     "y": {"field": "v", "type": "quantitative", "scale": {"domain": [0, 4], "nice": false}, "axis": {"orient": "right", "values": [0, 2, 4], "title": null, "domainColor": "#D95319", "tickColor": "#D95319", "labelColor": "#D95319"}},
     "color": {"field": "s", "type": "nominal", "scale": {"domain": ["POLYMOD", "BBC", "CoMix"], "range": ["#0072BD", "#0072BD", "#D95319"]}, "legend": null},
     "strokeDash": {"field": "s", "type": "nominal", "scale": {"domain": ["POLYMOD", "BBC", "CoMix"], "range": [[1, 0], [5, 3], [1, 0]]}, "legend": null}
    }}
  ],
  "resolve": {"scale": {"y": "independent"}}},
 {"width": 168, "height": 106,
  "layer": [
   {"data": {"name": "wsDeath"}, "transform": [{"filter": "datum.s !== 'CoMix'"}], "mark": "line",
    "encoding": {
     "x": {"field": "t", "type": "quantitative", "scale": {"domain": [0, 300], "nice": false}, "axis": {"values": [0, 100, 200, 300], "title": "time, days", "titlePadding": 2, "labelColor": "black", "titleColor": "black", "domainColor": "#262626", "tickColor": "#262626"}},
     "y": {"field": "v", "type": "quantitative", "scale": {"domain": [0, 4000], "nice": false}, "axis": {"orient": "left", "values": [0, 2000, 4000], "title": "Total deaths", "titleX": -46, "domainColor": "#0072BD", "tickColor": "#0072BD", "labelColor": "#0072BD", "titleColor": "#0072BD"}},
     "color": {"field": "s", "type": "nominal", "scale": {"domain": ["POLYMOD", "BBC", "CoMix"], "range": ["#0072BD", "#0072BD", "#D95319"]}, "legend": null},
     "strokeDash": {"field": "s", "type": "nominal", "scale": {"domain": ["POLYMOD", "BBC", "CoMix"], "range": [[1, 0], [5, 3], [1, 0]]}, "legend": null}
    }},
   {"data": {"name": "wsDeath"}, "transform": [{"filter": "datum.s === 'CoMix'"}], "mark": "line",
    "encoding": {
     "x": {"field": "t", "type": "quantitative"},
     "y": {"field": "v", "type": "quantitative", "scale": {"domain": [0, 10], "nice": false}, "axis": {"orient": "right", "values": [0, 5, 10], "title": null, "domainColor": "#D95319", "tickColor": "#D95319", "labelColor": "#D95319"}},
     "color": {"field": "s", "type": "nominal", "scale": {"domain": ["POLYMOD", "BBC", "CoMix"], "range": ["#0072BD", "#0072BD", "#D95319"]}, "legend": null},
     "strokeDash": {"field": "s", "type": "nominal", "scale": {"domain": ["POLYMOD", "BBC", "CoMix"], "range": [[1, 0], [5, 3], [1, 0]]}, "legend": null}
    }}
  ],
  "resolve": {"scale": {"y": "independent"}}},
 {"width": 168, "height": 106,
  "layer": [
   {"data": {"name": "bhDeath"}, "transform": [{"filter": "datum.s !== 'CoMix'"}], "mark": "line",
    "encoding": {
     "x": {"field": "t", "type": "quantitative", "scale": {"domain": [0, 300], "nice": false}, "axis": {"values": [0, 100, 200, 300], "title": "time, days", "titlePadding": 2, "labelColor": "black", "titleColor": "black", "domainColor": "#262626", "tickColor": "#262626"}},
     "y": {"field": "v", "type": "quantitative", "scale": {"domain": [0, 800], "nice": false}, "axis": {"orient": "left", "values": [0, 400, 800], "title": null, "domainColor": "#0072BD", "tickColor": "#0072BD", "labelColor": "#0072BD"}},
     "color": {"field": "s", "type": "nominal", "scale": {"domain": ["POLYMOD", "BBC", "CoMix"], "range": ["#0072BD", "#0072BD", "#D95319"]}, "legend": null},
     "strokeDash": {"field": "s", "type": "nominal", "scale": {"domain": ["POLYMOD", "BBC", "CoMix"], "range": [[1, 0], [5, 3], [1, 0]]}, "legend": null}
    }},
   {"data": {"name": "bhDeath"}, "transform": [{"filter": "datum.s === 'CoMix'"}], "mark": "line",
    "encoding": {
     "x": {"field": "t", "type": "quantitative"},
     "y": {"field": "v", "type": "quantitative", "scale": {"domain": [0, 6], "nice": false}, "axis": {"orient": "right", "values": [0, 3, 6], "title": null, "domainColor": "#D95319", "tickColor": "#D95319", "labelColor": "#D95319"}},
     "color": {"field": "s", "type": "nominal", "scale": {"domain": ["POLYMOD", "BBC", "CoMix"], "range": ["#0072BD", "#0072BD", "#D95319"]}, "legend": null},
     "strokeDash": {"field": "s", "type": "nominal", "scale": {"domain": ["POLYMOD", "BBC", "CoMix"], "range": [[1, 0], [5, 3], [1, 0]]}, "legend": null}
    }}
  ],
  "resolve": {"scale": {"y": "independent"}}},
 {"width": 168, "height": 106,
  "layer": [
   {"data": {"name": "esDeath"}, "transform": [{"filter": "datum.s !== 'CoMix'"}], "mark": "line",
    "encoding": {
     "x": {"field": "t", "type": "quantitative", "scale": {"domain": [0, 300], "nice": false}, "axis": {"values": [0, 100, 200, 300], "title": "time, days", "titlePadding": 2, "labelColor": "black", "titleColor": "black", "domainColor": "#262626", "tickColor": "#262626"}},
     "y": {"field": "v", "type": "quantitative", "scale": {"domain": [0, 3000], "nice": false}, "axis": {"orient": "left", "values": [0, 1000, 2000, 3000], "title": null, "domainColor": "#0072BD", "tickColor": "#0072BD", "labelColor": "#0072BD"}},
     "color": {"field": "s", "type": "nominal", "scale": {"domain": ["POLYMOD", "BBC", "CoMix"], "range": ["#0072BD", "#0072BD", "#D95319"]}, "legend": null},
     "strokeDash": {"field": "s", "type": "nominal", "scale": {"domain": ["POLYMOD", "BBC", "CoMix"], "range": [[1, 0], [5, 3], [1, 0]]}, "legend": null}
    }},
   {"data": {"name": "esDeath"}, "transform": [{"filter": "datum.s === 'CoMix'"}], "mark": "line",
    "encoding": {
     "x": {"field": "t", "type": "quantitative"},
     "y": {"field": "v", "type": "quantitative", "scale": {"domain": [0, 12], "nice": false}, "axis": {"orient": "right", "values": [0, 5, 10], "title": null, "domainColor": "#D95319", "tickColor": "#D95319", "labelColor": "#D95319"}},
     "color": {"field": "s", "type": "nominal", "scale": {"domain": ["POLYMOD", "BBC", "CoMix"], "range": ["#0072BD", "#0072BD", "#D95319"]}, "legend": null},
     "strokeDash": {"field": "s", "type": "nominal", "scale": {"domain": ["POLYMOD", "BBC", "CoMix"], "range": [[1, 0], [5, 3], [1, 0]]}, "legend": null}
    }}
  ],
  "resolve": {"scale": {"y": "independent"}}}
]
}
